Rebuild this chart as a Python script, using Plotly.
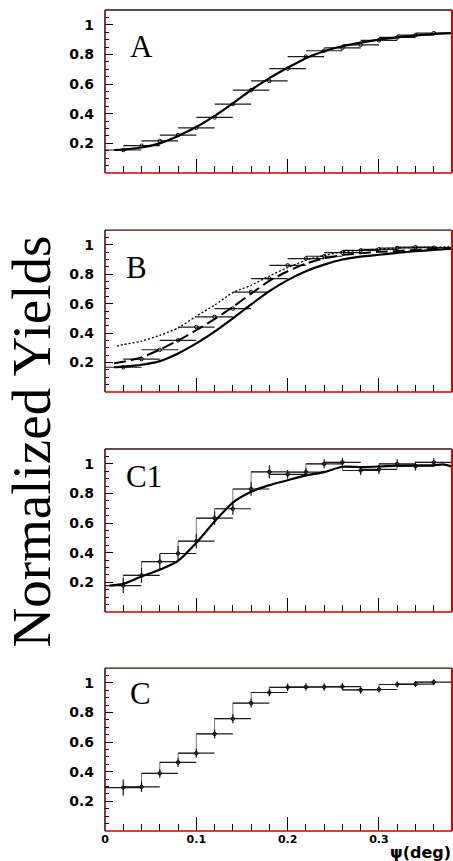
import plotly.graph_objects as go

# ---------------- data ----------------
psi = [0.02, 0.04, 0.06, 0.08, 0.10, 0.12, 0.14, 0.16, 0.18,
       0.20, 0.22, 0.24, 0.26, 0.28, 0.30, 0.32, 0.34, 0.36]
half_bin = [0.02] * len(psi)

yield_A = [0.155, 0.184, 0.216, 0.256, 0.305, 0.375, 0.465, 0.559, 0.621,
           0.704, 0.785, 0.825, 0.845, 0.865, 0.895, 0.915, 0.930, 0.944]
fitA_x = [0.01, 0.02, 0.04, 0.06, 0.08, 0.10, 0.12, 0.14, 0.16, 0.18,
          0.20, 0.22, 0.24, 0.26, 0.28, 0.30, 0.32, 0.34, 0.36, 0.38]
fitA_y = [0.155, 0.158, 0.172, 0.200, 0.250, 0.310, 0.385, 0.470, 0.560, 0.640,
          0.710, 0.775, 0.822, 0.855, 0.880, 0.900, 0.915, 0.928, 0.938, 0.944]

yield_B = [0.168, 0.224, 0.287, 0.351, 0.441, 0.510, 0.566, 0.679, 0.770,
           0.860, 0.906, 0.922, 0.946, 0.962, 0.969, 0.978, 0.984, 0.980]
fitB_x = [0.01, 0.02, 0.04, 0.06, 0.08, 0.10, 0.12, 0.14, 0.16, 0.18,
          0.20, 0.22, 0.24, 0.26, 0.28, 0.30, 0.32, 0.34, 0.36, 0.38]
fitB_solid = [0.168, 0.172, 0.185, 0.210, 0.262, 0.330, 0.410, 0.500, 0.595, 0.685,
              0.760, 0.820, 0.865, 0.900, 0.920, 0.932, 0.945, 0.956, 0.965, 0.973]
fitB_dash = [0.195, 0.205, 0.235, 0.288, 0.350, 0.420, 0.495, 0.578, 0.668, 0.755,
             0.820, 0.872, 0.908, 0.930, 0.943, 0.952, 0.958, 0.965, 0.972, 0.977]
fitB_dot_x = [0.013, 0.02, 0.04, 0.06, 0.08, 0.10, 0.12, 0.14, 0.16, 0.18,
              0.20, 0.22, 0.24, 0.26, 0.28, 0.30, 0.32, 0.34, 0.36, 0.38]
fitB_dot = [0.312, 0.322, 0.345, 0.385, 0.435, 0.515, 0.590, 0.675, 0.725, 0.788,
            0.845, 0.895, 0.928, 0.952, 0.962, 0.972, 0.978, 0.982, 0.984, 0.985]

yield_C1 = [0.178, 0.248, 0.340, 0.395, 0.478, 0.633, 0.697, 0.830, 0.946,
            0.929, 0.944, 1.000, 1.010, 0.955, 0.962, 1.000, 0.984, 1.010]
err_C1 = [0.05, 0.05, 0.05, 0.05, 0.05, 0.045, 0.04, 0.045, 0.045,
          0.03, 0.03, 0.03, 0.03, 0.03, 0.03, 0.03, 0.03, 0.03]
fitC1_x = [0.005, 0.02, 0.04, 0.06, 0.08, 0.10, 0.12, 0.14, 0.16, 0.18, 0.20,
           0.22, 0.24, 0.26, 0.28, 0.30, 0.32, 0.34, 0.36, 0.37, 0.38]
fitC1_y = [0.178, 0.190, 0.240, 0.285, 0.345, 0.467, 0.611, 0.738, 0.811, 0.856, 0.889,
           0.922, 0.944, 0.980, 0.978, 0.982, 0.988, 0.989, 0.990, 0.996, 0.982]

yield_C = [0.293, 0.298, 0.389, 0.463, 0.525, 0.655, 0.758, 0.863, 0.935,
           0.970, 0.972, 0.972, 0.975, 0.952, 0.955, 0.989, 0.992, 1.005]
err_C = [0.055, 0.035, 0.03, 0.03, 0.03, 0.03, 0.03, 0.03, 0.025,
         0.025, 0.025, 0.025, 0.025, 0.025, 0.02, 0.02, 0.02, 0.02]

panel_labels = ["A", "B", "C1", "C"]
y_tickvals = [0.2, 0.4, 0.6, 0.8, 1.0]
y_ticktext = ["0.2", "0.4", "0.6", "0.8", "1"]
x_tickvals = [0, 0.1, 0.2, 0.3]
x_ticktext = ["0", "0.1", "0.2", "0.3"]

# ---------------- figure ----------------
fig = go.Figure()

domains = [[0.8015, 1.0], [0.5347, 0.7320], [0.2667, 0.4653], [0.0, 0.1985]]
ERR_COL = "#1a1a1a"


def ax(i):
    return ("x" if i == 1 else f"x{i}"), ("y" if i == 1 else f"y{i}")


def add_points(i, y, ey=None, step=False):
    xa, ya = ax(i)
    if step:
        fig.add_trace(go.Scatter(x=psi, y=y, mode="lines", line=dict(color="#777777", width=1, shape="vh"),
                                 xaxis=xa, yaxis=ya, showlegend=False, hoverinfo="skip"))
    fig.add_trace(go.Scatter(
        x=psi, y=y, mode="markers",
        marker=dict(symbol="circle-open", size=3.5, color="black", line=dict(width=1, color="black")),
        error_x=dict(type="data", array=half_bin, color=ERR_COL, thickness=1.2, width=0),
        error_y=(dict(type="data", array=ey, color=ERR_COL, thickness=1.2, width=0) if ey else dict(visible=False)),
        xaxis=xa, yaxis=ya, showlegend=False))


def add_curve(i, x, y, dash="solid", width=2.2):
    xa, ya = ax(i)
    fig.add_trace(go.Scatter(x=x, y=y, mode="lines",
                             line=dict(color="black", width=width, dash=dash, shape="spline", smoothing=0.6),
                             xaxis=xa, yaxis=ya, showlegend=False))


# Panel A
add_points(1, yield_A)
add_curve(1, fitA_x, fitA_y)
# Panel B
add_points(2, yield_B)
add_curve(2, fitB_x, fitB_solid)
add_curve(2, fitB_x, fitB_dash, dash="12px,5px", width=2)
add_curve(2, fitB_dot_x, fitB_dot, dash="2px,2px", width=1.3)
# Panel C1
add_points(3, yield_C1, err_C1, step=True)
add_curve(3, fitC1_x, fitC1_y)
# Panel C
add_points(4, yield_C, err_C, step=True)

tick_font = dict(family="DejaVu Sans", size=14, color="black", weight="bold")
layout = {}
shapes = []
annotations = []
for i in range(1, 5):
    xk = "xaxis" if i == 1 else f"xaxis{i}"
    yk = "yaxis" if i == 1 else f"yaxis{i}"
    xa, ya = ax(i)
    layout[xk] = dict(
        domain=[0, 1], anchor=ya, range=[0, 0.38], showgrid=False, zeroline=False,
        showline=False, ticks="inside", ticklen=14, tickwidth=1, tickcolor="black",
        tickmode="array", tickvals=x_tickvals, ticktext=x_ticktext,
        showticklabels=(i == 4), tickfont=dict(family="DejaVu Sans", size=11, color="black", weight="bold"),
        ticklabelstandoff=0,
        minor=dict(ticks="inside", ticklen=7, tickwidth=1, tickcolor="black",
                   tickmode="linear", tick0=0, dtick=0.02, showgrid=False),
        fixedrange=True)
    layout[yk] = dict(
        domain=domains[i - 1], anchor=xa, range=[0, 1.1], showgrid=False, zeroline=False,
        showline=False, ticks="inside", ticklen=8, tickwidth=1, tickcolor="black",
        tickmode="array", tickvals=y_tickvals, ticktext=y_ticktext,
        tickfont=tick_font, ticklabelstandoff=10,
        minor=dict(ticks="inside", ticklen=4, tickwidth=1, tickcolor="black",
                   tickmode="linear", tick0=0, dtick=0.05, showgrid=False),
        fixedrange=True)
    xd = f"{xa} domain"
    yd = f"{ya} domain"
    shapes += [
        dict(type="line", xref=xd, yref=yd, x0=0, x1=1, y0=1, y1=1, line=dict(color="#3a0c0c", width=1.3)),
        dict(type="line", xref=xd, yref=yd, x0=0, x1=0, y0=0, y1=1, line=dict(color="#5a0a0a", width=1.6)),
        dict(type="line", xref=xd, yref=yd, x0=0, x1=1, y0=0, y1=0, line=dict(color="#c80000", width=1.6)),
        dict(type="line", xref=xd, yref=yd, x0=1, x1=1, y0=0, y1=1, line=dict(color="#e00000", width=2)),
    ]

label_pos = [(0.025, 0.853), (0.021, 0.845), (0.021, 0.915), (0.025, 0.929)]
for i, (lab, (lx, ly)) in enumerate(zip(panel_labels, label_pos), start=1):
    xa, ya = ax(i)
    annotations.append(dict(text=lab, x=lx, y=ly, xref=xa, yref=ya, xanchor="left", yanchor="middle",
                            showarrow=False, font=dict(family="Liberation Serif", size=31, color="black")))

annotations.append(dict(text="Normalized Yields", x=-0.212, y=0.475, xref="paper", yref="paper",
                        xanchor="center", yanchor="middle", textangle=-90, showarrow=False,
                        font=dict(family="Liberation Serif", size=55, color="black")))
annotations.append(dict(text="ψ(deg)", x=1.0, y=-0.0395, xref="paper", yref="paper",
                        xanchor="right", yanchor="bottom", showarrow=False, borderpad=0,
                        font=dict(family="DejaVu Sans", size=16, color="black", weight="bold")))

fig.update_layout(
    width=453, height=861, margin=dict(l=105, r=1, t=10, b=30),
    paper_bgcolor="white", plot_bgcolor="white", showlegend=False,
    shapes=shapes, annotations=annotations, **layout)

fig.write_html("out.html", include_plotlyjs=True, config={"displayModeBar": False})
